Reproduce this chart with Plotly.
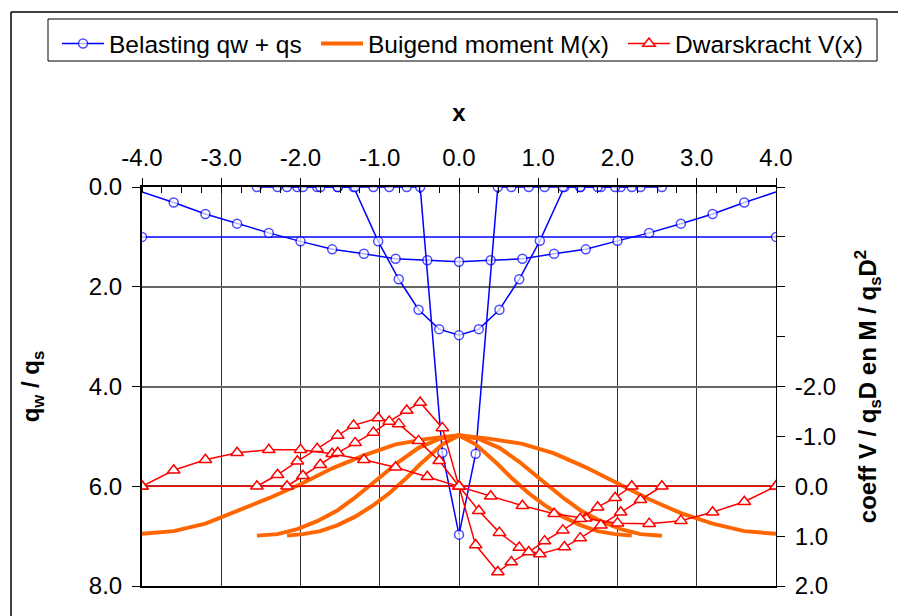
import plotly.graph_objects as go

# ---------------- data ----------------
x_tick_vals = [-4.0, -3.0, -2.0, -1.0, 0.0, 1.0, 2.0, 3.0, 4.0]
y1_tick_vals = [0.0, 2.0, 4.0, 6.0, 8.0]
y2_tick_vals = [-2.0, -1.0, 0.0, 1.0, 2.0]
y2_minor_vals = [-6.0, -5.0, -4.0, -3.0]

# uniform load case
x_uni = [-4.0, 4.0]
q_uni = [1.0, 1.0]
V_uni = [0.0, 0.0]

# wide load case
x_wide = [-4.0, -3.6, -3.2, -2.8, -2.4, -2.0, -1.6, -1.2, -0.8, -0.4, 0.0,
          0.4, 0.8, 1.2, 1.6, 2.0, 2.4, 2.8, 3.2, 3.6, 4.0]
q_wide = [0.10, 0.31, 0.54, 0.735, 0.92, 1.09, 1.25, 1.34, 1.44, 1.47, 1.50,
          1.47, 1.44, 1.34, 1.25, 1.08, 0.92, 0.735, 0.54, 0.31, 0.10]
V_wide = [0.0, -0.32, -0.53, -0.67, -0.73, -0.73, -0.65, -0.53, -0.38, -0.19, 0.0,
          0.20, 0.39, 0.55, 0.64, 0.74, 0.75, 0.69, 0.52, 0.31, 0.0]
M_wide = [0.955, 0.90, 0.75, 0.50, 0.24, -0.04, -0.36, -0.62, -0.84, -0.95, -1.02,
          -0.95, -0.85, -0.66, -0.38, -0.06, 0.26, 0.54, 0.75, 0.90, 0.955]

# medium load case
x_med = [-2.55, -2.29, -2.04, -1.79, -1.53, -1.33, -1.02, -0.76, -0.51, -0.25, 0.0,
         0.25, 0.51, 0.76, 1.02, 1.33, 1.53, 1.79, 2.04, 2.29, 2.56]
q_med = [0.0, 0.0, 0.0, 0.0, 0.0, 0.0, 1.09, 1.85, 2.46, 2.85, 2.97,
         2.85, 2.46, 1.85, 1.08, 0.0, 0.0, 0.0, 0.0, 0.0, 0.0]
V_med = [0.0, -0.23, -0.50, -0.75, -1.02, -1.22, -1.37, -1.25, -0.91, -0.51, 0.0,
         0.49, 0.93, 1.23, 1.36, 1.22, 1.04, 0.78, 0.52, 0.27, 0.0]
M_med = [0.99, 0.96, 0.86, 0.70, 0.48, 0.25, -0.15, -0.49, -0.77, -0.95, -1.02,
         -0.95, -0.77, -0.49, -0.15, 0.25, 0.48, 0.70, 0.86, 0.96, 0.99]

# narrow load case
x_nar = [-2.17, -1.97, -1.75, -1.53, -1.31, -1.08, -0.88, -0.66, -0.49, -0.21, 0.0,
         0.21, 0.49, 0.66, 0.88, 1.08, 1.31, 1.53, 1.75, 1.97, 2.18]
q_nar = [0.0, 0.0, 0.0, 0.0, 0.0, 0.0, 0.0, 0.0, 0.0, 5.33, 6.97,
         5.35, 0.0, 0.0, 0.0, 0.0, 0.0, 0.0, 0.0, 0.0, 0.0]
V_nar = [0.0, -0.21, -0.43, -0.67, -0.87, -1.08, -1.30, -1.52, -1.68, -1.17, 0.0,
         1.18, 1.72, 1.52, 1.32, 1.10, 0.88, 0.65, 0.42, 0.23, 0.0]
M_nar = [0.99, 0.96, 0.90, 0.78, 0.61, 0.38, 0.14, -0.17, -0.44, -0.84, -1.02,
         -0.84, -0.44, -0.17, 0.14, 0.38, 0.61, 0.78, 0.90, 0.96, 0.99]

# ---------------- styles ----------------
BLUE = "rgb(0,0,255)"
RED = "rgb(255,0,0)"
ORANGE = "rgb(255,102,0)"
FONT = "Liberation Sans, Arial, sans-serif"

fig = go.Figure()

# bending moment (secondary axis)
for i, (xs, ms) in enumerate([(x_wide, M_wide), (x_med, M_med), (x_nar, M_nar)]):
    fig.add_trace(go.Scatter(
        x=xs, y=ms, yaxis="y2", mode="lines",
        line=dict(color=ORANGE, width=4),
        name="Buigend moment M(x)", legend="legend2", showlegend=(i == 0)))

# shear force (secondary axis)
for i, (xs, vs) in enumerate([(x_uni, V_uni), (x_wide, V_wide), (x_med, V_med), (x_nar, V_nar)]):
    fig.add_trace(go.Scatter(
        x=xs, y=vs, yaxis="y2", mode="lines+markers",
        line=dict(color=RED, width=1.5),
        marker=dict(symbol="triangle-up", size=11, color="white", line=dict(color=RED, width=1.5)),
        name="Dwarskracht V(x)", legend="legend3", showlegend=(i == 0)))

# load (primary axis)
load_cases = [(x_uni, q_uni), (x_wide, q_wide), (x_med, q_med), (x_nar, q_nar)]
for i, (xs, qs) in enumerate(load_cases):
    sizes = [9] * len(xs)
    if xs is x_wide:
        sizes[0] = 0
        sizes[-1] = 0
    fig.add_trace(go.Scatter(
        x=xs, y=qs, mode="lines+markers",
        line=dict(color=BLUE, width=1.5),
        marker=dict(symbol="circle", size=sizes, color="white", line=dict(color=BLUE, width=1.5)),
        name="Belasting qw + qs", legend="legend", showlegend=(i == 0)))

# ---------------- layout ----------------
OFF = 8  # page body margin of the browser
W, H = 906, 616
# plot area in page pixels: x 142..776, y 187..586
L = 142 - OFF
T = 187 - OFF
R = W - (776 - OFF)
B = H - (586 - OFF)
pw, ph = W - L - R, H - T - B


def px_x(p):
    return (p - OFF - L) / pw


def px_y(p):
    return (H - B - (p - OFF)) / ph


def legend_at(px_left):
    return dict(orientation="h", x=px_x(px_left), y=px_y(21), xanchor="left", yanchor="top",
                borderwidth=0, bgcolor="rgba(0,0,0,0)", itemwidth=42,
                font=dict(family=FONT, size=24.5, color="black"))


fig.update_layout(
    width=W, height=H,
    margin=dict(l=L, r=R, t=T, b=B, autoexpand=False),
    paper_bgcolor="white", plot_bgcolor="white",
    font=dict(family=FONT, size=24, color="black"),
    legend=legend_at(57),
    legend2=legend_at(316),
    legend3=legend_at(623),
    xaxis=dict(
        side="top", range=[-4, 4],
        tickmode="array", tickvals=x_tick_vals, ticktext=[f"{v:.1f}" for v in x_tick_vals],
        ticks="outside", ticklen=7, tickcolor="black", tickwidth=1, ticklabelstandoff=2,
        showgrid=True, gridcolor="rgb(50,50,50)", gridwidth=1,
        showline=True, linecolor="black", linewidth=2, mirror=True,
        zeroline=False,
        minor=dict(dtick=0.25, tick0=0, ticks="inside", ticklen=6, tickcolor="black", showgrid=False),
        title=dict(text="<b>x</b>", standoff=16, font=dict(size=24)),
    ),
    yaxis=dict(
        range=[8, 0],
        tickmode="array", tickvals=y1_tick_vals, ticktext=[f"{v:.1f}" for v in y1_tick_vals],
        ticks="outside", ticklen=8, tickcolor="black", ticklabelstandoff=5,
        showgrid=True, gridcolor="rgb(100,100,100)", gridwidth=1.5,
        showline=True, linecolor="black", linewidth=2,
        zeroline=False,
        title=dict(text="<b>q<sub>w</sub> / q<sub>s</sub></b>", standoff=42, font=dict(size=24)),
    ),
    yaxis2=dict(
        overlaying="y", side="right", range=[2, -6],
        tickmode="array", tickvals=y2_tick_vals, ticktext=[f"{v:.1f}" for v in y2_tick_vals],
        ticks="outside", ticklen=8, tickcolor="black", ticklabelstandoff=5,
        minor=dict(tickmode="array", tickvals=y2_minor_vals, ticks="outside", ticklen=8,
                   tickcolor="black", showgrid=False),
        showgrid=False, showline=True, linecolor="black", linewidth=1,
        zeroline=False,
        title=dict(text="<b>coeff V / q<sub>s</sub>D en M / q<sub>s</sub>D<sup>2</sup></b>",
                   standoff=24, font=dict(size=24)),
    ),
    shapes=[
        # outer chart border
        dict(type="line", xref="paper", yref="paper", x0=px_x(11), x1=px_x(920), y0=px_y(12), y1=px_y(12),
             line=dict(color="black", width=1.5)),
        dict(type="line", xref="paper", yref="paper", x0=px_x(11), x1=px_x(11), y0=px_y(12), y1=px_y(630),
             line=dict(color="black", width=1.5)),
        # legend frame
        dict(type="rect", xref="paper", yref="paper", x0=px_x(48), x1=px_x(877), y0=px_y(19), y1=px_y(61),
             line=dict(color="black", width=1)),
    ],
)

fig.write_html("out.html")
